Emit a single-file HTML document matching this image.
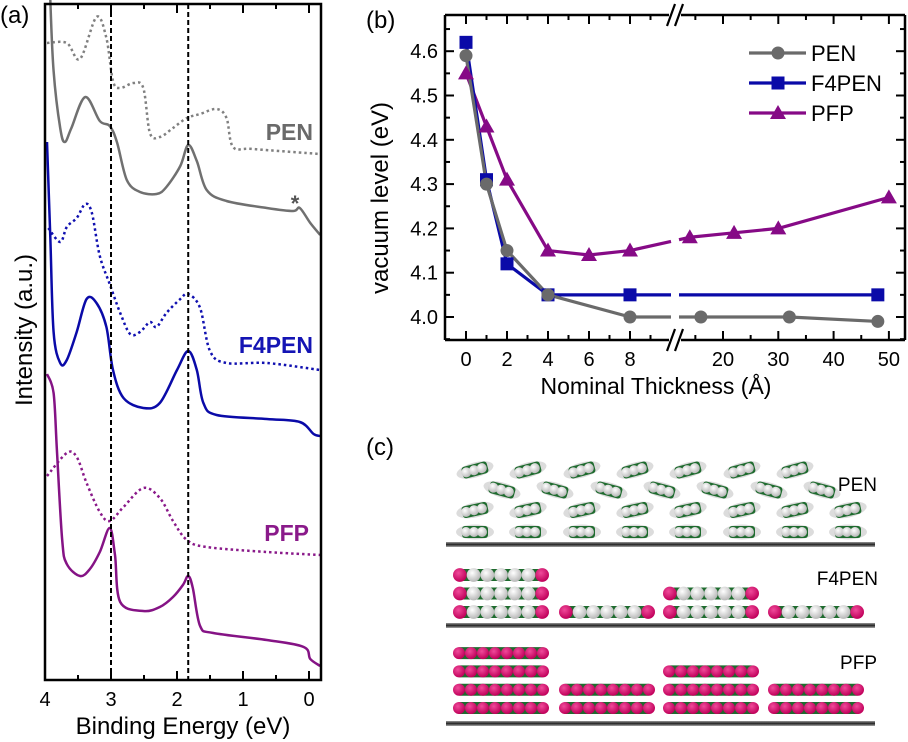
<!DOCTYPE html>
<html><head><meta charset="utf-8"><style>
html,body{margin:0;padding:0;background:#fff;}
svg{display:block;font-family:"Liberation Sans",sans-serif;}
</style></head><body>
<svg id="fig" width="908" height="742" viewBox="0 0 908 742" xmlns="http://www.w3.org/2000/svg">
<g id="pa"></g>
<g id="pb"></g>
<g id="pc"></g>
</svg>
<script>
// ---------- Panel (b) data ----------
const penX=[0,1,2,4,8,16,32,48];
const penY=[4.59,4.30,4.15,4.05,4.00,4.00,4.00,3.99];
const f4X=[0,1,2,4,8,48];
const f4Y=[4.62,4.31,4.12,4.05,4.05,4.05];
const pfpX=[0,1,2,4,6,8,14,22,30,50];
const pfpY=[4.55,4.43,4.31,4.15,4.14,4.15,4.18,4.19,4.20,4.27];
const yTicks=[4.0,4.1,4.2,4.3,4.4,4.5,4.6];
const xTicksL=[0,2,4,6,8];
const xTicksR=[20,30,40,50];
// ---------- Panel (a) data (binding energy eV, intensity a.u.) ----------
const penDotE=[3.97,3.67,3.47,3.22,3.07,2.97,2.86,2.66,2.51,2.41,2.26,2.06,1.85,1.65,1.40,1.25,1.15,0.85,-0.17];
const penDotI=[637,637,621,663,642,599,592,597,592,547,543,552,562,566,571,562,533,531,526];
const penSolE=[3.92,3.87,3.77,3.70,3.60,3.39,3.17,3.02,2.91,2.76,2.56,2.31,2.16,1.95,1.83,1.70,1.55,1.25,0.64,0.24,0.14,-0.02,-0.17];
const penSolI=[680,609,552,538,552,583,559,554,538,500,488,486,493,514,535,519,490,479,472,469,472,457,445];
const f4DotE=[3.95,3.77,3.67,3.52,3.39,3.29,3.17,3.02,2.86,2.71,2.56,2.41,2.31,2.16,1.95,1.83,1.65,1.50,1.25,0.64,-0.17];
const f4DotI=[452,438,453,462,476,467,424,396,367,346,348,358,353,367,381,386,372,329,317,317,310];
const f4SolE=[3.97,3.92,3.87,3.77,3.67,3.52,3.37,3.22,3.07,2.97,2.81,2.51,2.26,2.00,1.83,1.70,1.60,1.40,0.64,0.14,-0.07,-0.17];
const f4SolI=[538,443,348,317,320,348,381,377,353,310,282,272,277,310,329,310,277,265,261,258,246,244];
const pfpDotE=[3.97,3.67,3.52,3.37,3.17,3.02,2.81,2.51,2.26,2.06,1.85,1.55,0.64,-0.17];
const pfpDotI=[204,227,223,197,168,159,173,192,182,159,140,133,128,125];
const pfpSolE=[3.97,3.87,3.82,3.74,3.67,3.47,3.32,3.17,3.02,2.94,2.86,2.51,2.26,2.06,1.91,1.83,1.76,1.65,1.45,0.64,0.08,-0.02,-0.17];
const pfpSolI=[306,287,230,140,116,104,111,128,152,125,78,69,73,83,95,104,92,54,47,40,33,21,14];
const eTicks=[4,3,2,1,0];

const NS="http://www.w3.org/2000/svg";
function mk(parent,tag,attrs,text){const e=document.createElementNS(NS,tag);for(const k in attrs)e.setAttribute(k,attrs[k]);if(text!==undefined)e.textContent=text;parent.appendChild(e);return e;}

// ===== Panel A =====
const pa=document.getElementById('pa');
const aL=45,aR=321,aT=4,aB=680;
const ex=e=>309-66*e;
const iy=v=>aB-v;
function path(E,I){
  const P=E.map((e,i)=>[ex(e),iy(I[i])]);
  let d='M'+P[0][0].toFixed(1)+','+P[0][1].toFixed(1);
  for(let i=0;i<P.length-1;i++){
    const p0=P[Math.max(0,i-1)],p1=P[i],p2=P[i+1],p3=P[Math.min(P.length-1,i+2)];
    const c1=[p1[0]+(p2[0]-p0[0])/6,p1[1]+(p2[1]-p0[1])/6],c2=[p2[0]-(p3[0]-p1[0])/6,p2[1]-(p3[1]-p1[1])/6];
    d+=` C${c1[0].toFixed(1)},${c1[1].toFixed(1)} ${c2[0].toFixed(1)},${c2[1].toFixed(1)} ${p2[0].toFixed(1)},${p2[1].toFixed(1)}`;
  }
  return d;}
let l;
l=mk(pa,'path',{d:path(penDotE,penDotI),fill:'none',stroke:'#808080','stroke-width':2.5,'stroke-dasharray':'2.5,3'});

l=mk(pa,'path',{d:path(penSolE,penSolI),fill:'none',stroke:'#707070','stroke-width':2.5});

l=mk(pa,'path',{d:path(f4DotE,f4DotI),fill:'none',stroke:'#1010b0','stroke-width':2.5,'stroke-dasharray':'2.5,3'});

l=mk(pa,'path',{d:path(f4SolE,f4SolI),fill:'none',stroke:'#0a0aa8','stroke-width':2.5});

l=mk(pa,'path',{d:path(pfpDotE,pfpDotI),fill:'none',stroke:'#8a1a8a','stroke-width':2.5,'stroke-dasharray':'2.5,3'});

l=mk(pa,'path',{d:path(pfpSolE,pfpSolI),fill:'none',stroke:'#851385','stroke-width':2.5});

[3.0,1.83].forEach(e=>{const d=mk(pa,'line',{x1:ex(e),x2:ex(e),y1:aT,y2:aB,stroke:'#000','stroke-width':2,'stroke-dasharray':'5,3'});
});
l=mk(pa,'rect',{x:aL,y:aT,width:aR-aL,height:aB-aT,fill:'none',stroke:'#000','stroke-width':2.5});

for(let e=4;e>=-0.2;e-=0.5){const x=ex(e),len=(Math.abs(e-Math.round(e))<0.01)?9:5;
mk(pa,'line',{x1:x,x2:x,y1:aB,y2:aB-len,stroke:'#000','stroke-width':2});mk(pa,'line',{x1:x,x2:x,y1:aT,y2:aT+len,stroke:'#000','stroke-width':2});}
eTicks.forEach(e=>{const t=mk(pa,'text',{x:ex(e),y:706,'font-size':20,'text-anchor':'middle'},String(e));
});
l=mk(pa,'text',{x:183,y:734,'font-size':24,'text-anchor':'middle'},'Binding Energy (eV)');

l=mk(pa,'text',{x:0,y:0,'font-size':24,'text-anchor':'middle',transform:'translate(32,330) rotate(-90)'},'Intensity (a.u.)');

l=mk(pa,'text',{x:0,y:23,'font-size':24},'(a)');

l=mk(pa,'text',{x:313,y:140,'font-size':23,'font-weight':'bold','text-anchor':'end',fill:'#6a6a6a'},'PEN');

l=mk(pa,'text',{x:295,y:211,'font-size':22,'font-weight':'bold','text-anchor':'middle',fill:'#555'},'*');

l=mk(pa,'text',{x:313,y:353,'font-size':23,'font-weight':'bold','text-anchor':'end',fill:'#1414b4'},'F4PEN');

l=mk(pa,'text',{x:309,y:541,'font-size':23,'font-weight':'bold','text-anchor':'end',fill:'#8a1a8a'},'PFP');


// ===== Panel B =====
const pb=document.getElementById('pb');
const bL=445,bR=905,bT=15,bB=340,brk=675;
const vy=v=>317-(v-4.0)*443;
function tx(t){return t<=10?466+20.5*t:723+(t-20)*5.53;}
const colPen='#6a6a6a',colF4='#0a0aa8',colPfp='#860a86';
function series(X,Y,col,name){
  const L=[],R=[];X.forEach((x,i)=>{(x<=10?L:R).push([tx(x),vy(Y[i])]);});
  let d='';
  if(L.length){d+='M'+L.map(p=>p.join(',')).join(' L');}
  if(L.length&&R.length){const a=L[L.length-1],b=R[0];const f1=(brk-4-a[0])/(b[0]-a[0]),f2=(brk+4-a[0])/(b[0]-a[0]);
    d+=' L'+(brk-4)+','+(a[1]+(b[1]-a[1])*f1)+' M'+(brk+4)+','+(a[1]+(b[1]-a[1])*f2);
    d+=' L'+R.map(p=>p.join(',')).join(' L');}
  const p=mk(pb,'path',{d:d,fill:'none',stroke:col,'stroke-width':3.2,'stroke-linejoin':'round'});
  
}
function marker(kind,x,y,col,name){let m;
  if(kind==='c')m=mk(pb,'circle',{cx:x,cy:y,r:6.5,fill:col});
  else if(kind==='s')m=mk(pb,'rect',{x:x-6.5,y:y-6.5,width:13,height:13,fill:col});
  else m=mk(pb,'polygon',{points:`${x},${y-8} ${x+8},${y+6} ${x-8},${y+6}`,fill:col});
  }
series(pfpX,pfpY,colPfp,'pfp');series(f4X,f4Y,colF4,'f4pen');series(penX,penY,colPen,'pen');
pfpX.forEach((x,i)=>marker('t',tx(x),vy(pfpY[i]),colPfp,'pfp-point'));
f4X.forEach((x,i)=>marker('s',tx(x),vy(f4Y[i]),colF4,'f4pen-point'));
penX.forEach((x,i)=>marker('c',tx(x),vy(penY[i]),colPen,'pen-point'));
[[bL,bT,brk-6,bT],[brk+6,bT,bR,bT],[bL,bB,brk-6,bB],[brk+6,bB,bR,bB],[bL,bT,bL,bB],[bR,bT,bR,bB]].forEach(s=>{
 const f=mk(pb,'line',{x1:s[0],y1:s[1],x2:s[2],y2:s[3],stroke:'#000','stroke-width':2.5});
 });
[bT,bB].forEach(y=>{[-4,4].forEach(o=>{const b=mk(pb,'line',{x1:brk+o-4,y1:y+11,x2:brk+o+4,y2:y-11,stroke:'#000','stroke-width':2.2});
 });});
for(let v=3.95;v<=4.66;v+=0.05){const y=vy(v),maj=Math.abs(v*10-Math.round(v*10))<0.01,len=maj?9:5;
 mk(pb,'line',{x1:bL,x2:bL+len,y1:y,y2:y,stroke:'#000','stroke-width':2});mk(pb,'line',{x1:bR,x2:bR-len,y1:y,y2:y,stroke:'#000','stroke-width':2});}
yTicks.forEach(v=>{const t=mk(pb,'text',{x:438,y:vy(v)+7,'font-size':20,'text-anchor':'end'},v.toFixed(1));
 });
const xt=[];for(let t=0;t<=9;t++)xt.push([t,t%2===0]);for(let t=15;t<=50;t+=5)xt.push([t,t%10===0]);
xt.forEach(([t,maj])=>{const x=tx(t),len=maj?9:5;mk(pb,'line',{x1:x,x2:x,y1:bB,y2:bB-len,stroke:'#000','stroke-width':2});mk(pb,'line',{x1:x,x2:x,y1:bT,y2:bT+len,stroke:'#000','stroke-width':2});});
xTicksL.concat(xTicksR).forEach(t=>{const e=mk(pb,'text',{x:tx(t),y:366,'font-size':20,'text-anchor':'middle'},String(t));
 });
l=mk(pb,'text',{x:656,y:394,'font-size':23,'text-anchor':'middle'},'Nominal Thickness (Å)');

l=mk(pb,'text',{x:0,y:0,'font-size':24,'text-anchor':'middle',transform:'translate(388,198) rotate(-90)'},'vacuum level (eV)');

l=mk(pb,'text',{x:366,y:28,'font-size':24},'(b)');

[['PEN',colPen,'c',53],['F4PEN',colF4,'s',83],['PFP',colPfp,'t',113]].forEach(([n,c,k,y])=>{
 const g=mk(pb,'line',{x1:749,x2:806,y1:y,y2:y,stroke:c,'stroke-width':3.2});
 marker(k,778,y,c,'legend-marker');
 const t=mk(pb,'text',{x:811,y:y+8,'font-size':22},n);});

// ===== Panel C =====
const pc=document.getElementById('pc');
const defs=mk(pc,'defs',{});
const gw=mk(defs,'radialGradient',{id:'gw',cx:'40%',cy:'35%',r:'65%'});mk(gw,'stop',{offset:'0','stop-color':'#fff'});mk(gw,'stop',{offset:'1','stop-color':'#b8b8b8'});
const gp=mk(defs,'radialGradient',{id:'gp',cx:'40%',cy:'35%',r:'65%'});mk(gp,'stop',{offset:'0','stop-color':'#f04a9a'});mk(gp,'stop',{offset:'1','stop-color':'#c0005a'});
const gs=mk(defs,'linearGradient',{id:'gs',x1:0,y1:0,x2:0,y2:1});mk(gs,'stop',{offset:'0','stop-color':'#999'});mk(gs,'stop',{offset:'0.5','stop-color':'#222'});mk(gs,'stop',{offset:'1','stop-color':'#aaa'});
[544,625,723].forEach(y=>{const s=mk(pc,'rect',{x:446,y:y-2,width:429,height:5,fill:'url(#gs)'});});
function rod(x0,y,n,pinkAll){const g=mk(pc,'g',{});
 const d=96/n;mk(g,'rect',{x:x0+3,y:y-6,width:d*n-6,height:12,rx:4,fill:'#1e6b2e'});
 for(let i=0;i<n;i++){const pink=pinkAll||i===0||i===n-1;mk(g,'circle',{cx:x0+d/2+i*d,cy:y,r:d/2,fill:pink?'url(#gp)':'url(#gw)'});}}
const stacksX=[453,559,663,768];
[3,1,2,1].forEach((n,s)=>{for(let k=0;k<n;k++)rod(stacksX[s],612-k*18.5,7,false);});
[4,2,3,2].forEach((n,s)=>{for(let k=0;k<n;k++)rod(stacksX[s],708-k*18.3,8,true);});
function pen(cx,cy,ang){const g=mk(pc,'g',{transform:`translate(${cx},${cy}) rotate(${ang})`});
 mk(g,'ellipse',{cx:0,cy:0,rx:19,ry:7.5,fill:'#dcdcdc'});mk(g,'rect',{x:-13,y:-6,width:26,height:12,rx:3,fill:'#1e6b2e'});
 [-9,-1,7].forEach(x=>mk(g,'circle',{cx:x,cy:0,r:5,fill:'url(#gw)'}));}
const cols=[475,528,582,635,688,742,795,848];
cols.forEach((x,i)=>{pen(x,532,0);pen(x,510,-12);if(i<7){pen(x+27,490,15);pen(x,470,-15);}});
l=mk(pc,'text',{x:877,y:491,'font-size':19,'text-anchor':'end'},'PEN');
l=mk(pc,'text',{x:878,y:585,'font-size':19,'text-anchor':'end'},'F4PEN');
l=mk(pc,'text',{x:877,y:669,'font-size':19,'text-anchor':'end'},'PFP');
l=mk(pc,'text',{x:366,y:455,'font-size':24},'(c)');
</script>
</body></html>
